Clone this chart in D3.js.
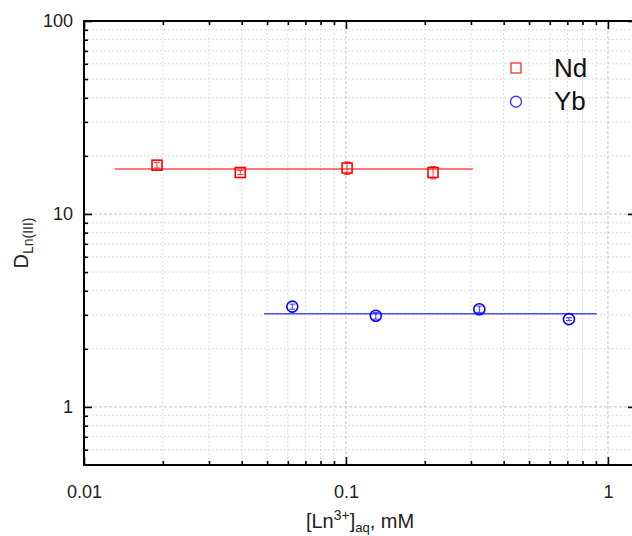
<!DOCTYPE html>
<html>
<head>
<meta charset="utf-8">
<script src="https://cdn.jsdelivr.net/npm/d3@7"></script>
<style>
  html, body { margin: 0; padding: 0; background: #fff; }
  svg { display: block; font-family: "Liberation Sans", Arial, sans-serif; }
</style>
</head>
<body>
<svg id="chart" width="632" height="536"></svg>
<script>
// ---- data ----
const seriesNames = ["Nd", "Yb"];
const ndX = [0.019, 0.0395, 0.101, 0.215];
const ndY = [17.9, 16.4, 17.3, 16.4];
const ndErr = [0.6, 0.4, 1.3, 1.2];
const ybX = [0.0624, 0.13, 0.323, 0.71];
const ybY = [3.31, 2.97, 3.21, 2.85];
const ybErr = [0.1, 0.12, 0.12, 0.05];
const ndFitX = [0.0131, 0.305];
const ndFitY = [17.1, 17.1];
const ybFitX = [0.0487, 0.906];
const ybFitY = [3.04, 3.04];
const xMajor = [0.01, 0.1, 1];
const xMajorLabels = ["0.01", "0.1", "1"];
const yMajor = [1, 10, 100];
const yMajorLabels = ["1", "10", "100"];

// ---- layout ----
const svg = d3.select("#chart");
const L = 84, R = 636, T = 21, B = 465;
const x = d3.scaleLog().domain([0.01, 1.28]).range([L, R]);
const y = d3.scaleLog().domain([0.5, 100]).range([B, T]);

function minors(lo, hi) {
  const out = [];
  for (let d = Math.pow(10, Math.floor(Math.log10(lo))); d < hi; d *= 10) {
    for (let k = 1; k <= 9; k++) {
      const v = +(k * d).toPrecision(6);
      if (v >= lo && v <= hi && k !== 1) out.push(v);
    }
  }
  return out;
}
const xMinor = minors(0.01, 1.28);
const yMinor = minors(0.5, 100).filter(v => v !== 0.5);

// ---- grid ----
const grid = svg.append("g");
grid.selectAll(".gxm").data(xMinor).join("line")
  .attr("x1", d => x(d)).attr("x2", d => x(d)).attr("y1", T).attr("y2", B)
  .attr("stroke", "#dcdcdc").attr("stroke-width", 1).attr("stroke-dasharray", "2,2");
grid.selectAll(".gym").data(yMinor).join("line")
  .attr("x1", L).attr("x2", R).attr("y1", d => y(d)).attr("y2", d => y(d))
  .attr("stroke", "#dcdcdc").attr("stroke-width", 1).attr("stroke-dasharray", "2,2");
grid.selectAll(".gxM").data(xMajor).join("line")
  .attr("x1", d => x(d)).attr("x2", d => x(d)).attr("y1", T).attr("y2", B)
  .attr("stroke", "#c4c4c4").attr("stroke-width", 1).attr("stroke-dasharray", "3,2");
grid.selectAll(".gyM").data(yMajor).join("line")
  .attr("x1", L).attr("x2", R).attr("y1", d => y(d)).attr("y2", d => y(d))
  .attr("stroke", "#c4c4c4").attr("stroke-width", 1).attr("stroke-dasharray", "3,2");

// ---- axes ----
function styleAxis(g) {
  g.select(".domain").remove();
  g.selectAll(".tick line").attr("stroke", "#000").attr("stroke-width", 1.6);
  g.selectAll(".tick text").attr("fill", "#222").attr("font-size", 18)
    .attr("font-family", "'Liberation Sans', Arial, sans-serif");
}
// bottom
svg.append("g").attr("transform", `translate(0,${B})`)
  .call(d3.axisBottom(x).tickValues(xMajor).tickSize(-8).tickPadding(20)
    .tickFormat((d, i) => xMajorLabels[i]))
  .call(styleAxis);
svg.append("g").attr("transform", `translate(0,${B})`)
  .call(d3.axisBottom(x).tickValues(xMinor).tickSize(-4).tickFormat(""))
  .call(styleAxis);
// top
svg.append("g").attr("transform", `translate(0,${T})`)
  .call(d3.axisTop(x).tickValues(xMajor).tickSize(-8).tickFormat(""))
  .call(styleAxis);
svg.append("g").attr("transform", `translate(0,${T})`)
  .call(d3.axisTop(x).tickValues(xMinor).tickSize(-4).tickFormat(""))
  .call(styleAxis);
// left
svg.append("g").attr("transform", `translate(${L},0)`)
  .call(d3.axisLeft(y).tickValues(yMajor).tickSize(-8).tickPadding(11)
    .tickFormat((d, i) => yMajorLabels[i]))
  .call(styleAxis);
svg.append("g").attr("transform", `translate(${L},0)`)
  .call(d3.axisLeft(y).tickValues(yMinor).tickSize(-4).tickFormat(""))
  .call(styleAxis);
// right
svg.append("g").attr("transform", `translate(${R},0)`)
  .call(d3.axisRight(y).tickValues(yMajor).tickSize(-8).tickFormat(""))
  .call(styleAxis);
svg.append("g").attr("transform", `translate(${R},0)`)
  .call(d3.axisRight(y).tickValues(yMinor).tickSize(-4).tickFormat(""))
  .call(styleAxis);

// frame
svg.append("rect").attr("x", L).attr("y", T).attr("width", R - L).attr("height", B - T)
  .attr("fill", "none").attr("stroke", "#000").attr("stroke-width", 2);

// ---- fit lines ----
const ndColor = "#ff0000", ybColor = "#0000ff";
const line = d3.line().x(d => x(d[0])).y(d => y(d[1]));
svg.append("path").datum(ndFitX.map((v, i) => [v, ndFitY[i]]))
  .attr("d", line).attr("stroke", "#ff4a4a").attr("stroke-width", 1.5).attr("fill", "none");
svg.append("path").datum(ybFitX.map((v, i) => [v, ybFitY[i]]))
  .attr("d", line).attr("stroke", "#4a4aff").attr("stroke-width", 1.5).attr("fill", "none");

// ---- error bars ----
function errBars(xs, ys, es, color) {
  const g = svg.append("g").attr("stroke", color).attr("stroke-width", 1).attr("opacity", 0.8);
  xs.forEach((xv, i) => {
    const cx = x(xv), y1 = y(ys[i] + es[i]), y2 = y(ys[i] - es[i]);
    g.append("line").attr("x1", cx).attr("x2", cx).attr("y1", y1).attr("y2", y2);
    g.append("line").attr("x1", cx - 3).attr("x2", cx + 3).attr("y1", y1).attr("y2", y1);
    g.append("line").attr("x1", cx - 3).attr("x2", cx + 3).attr("y1", y2).attr("y2", y2);
  });
}
errBars(ndX, ndY, ndErr, ndColor);
errBars(ybX, ybY, ybErr, ybColor);

// ---- markers ----
svg.append("g").selectAll("rect").data(ndX.map((v, i) => [v, ndY[i]])).join("rect")
  .attr("x", d => x(d[0]) - 5).attr("y", d => y(d[1]) - 5)
  .attr("width", 10).attr("height", 10)
  .attr("fill", "none").attr("stroke", ndColor).attr("stroke-width", 1.6);
svg.append("g").selectAll("circle").data(ybX.map((v, i) => [v, ybY[i]])).join("circle")
  .attr("cx", d => x(d[0])).attr("cy", d => y(d[1])).attr("r", 5.5)
  .attr("fill", "none").attr("stroke", ybColor).attr("stroke-width", 1.6);

// ---- legend ----
const leg = svg.append("g");
leg.append("rect").attr("x", 511).attr("y", 63).attr("width", 10).attr("height", 10)
  .attr("fill", "none").attr("stroke", "#ff3b3b").attr("stroke-width", 1.4);
leg.append("circle").attr("cx", 516).attr("cy", 101.7).attr("r", 5.5)
  .attr("fill", "none").attr("stroke", "#3b3bff").attr("stroke-width", 1.4);
leg.append("text").attr("x", 554).attr("y", 77).attr("font-size", 26).attr("fill", "#111").text(seriesNames[0]);
leg.append("text").attr("x", 554).attr("y", 110).attr("font-size", 26).attr("fill", "#111").text(seriesNames[1]);

// ---- axis titles ----
const xt = svg.append("text").attr("x", (L + R) / 2).attr("y", 528)
  .attr("text-anchor", "middle").attr("font-size", 20).attr("fill", "#222");
xt.append("tspan").text("[Ln");
xt.append("tspan").attr("font-size", 14).attr("dy", -8).text("3+");
xt.append("tspan").attr("dy", 8).text("]");
xt.append("tspan").attr("font-size", 13).attr("dy", 4).text("aq");
xt.append("tspan").attr("dy", -4).text(", mM");

const ytg = svg.append("g").attr("transform", `translate(28,${(T + B) / 2})`);
const yt = ytg.append("g").attr("transform", "rotate(-90)").append("text")
  .attr("x", 0).attr("y", 0)
  .attr("text-anchor", "middle").attr("font-size", 20).attr("fill", "#222");
yt.append("tspan").text("D");
yt.append("tspan").attr("font-size", 14).attr("dy", 5).text("Ln(III)");
</script>
</body>
</html>
